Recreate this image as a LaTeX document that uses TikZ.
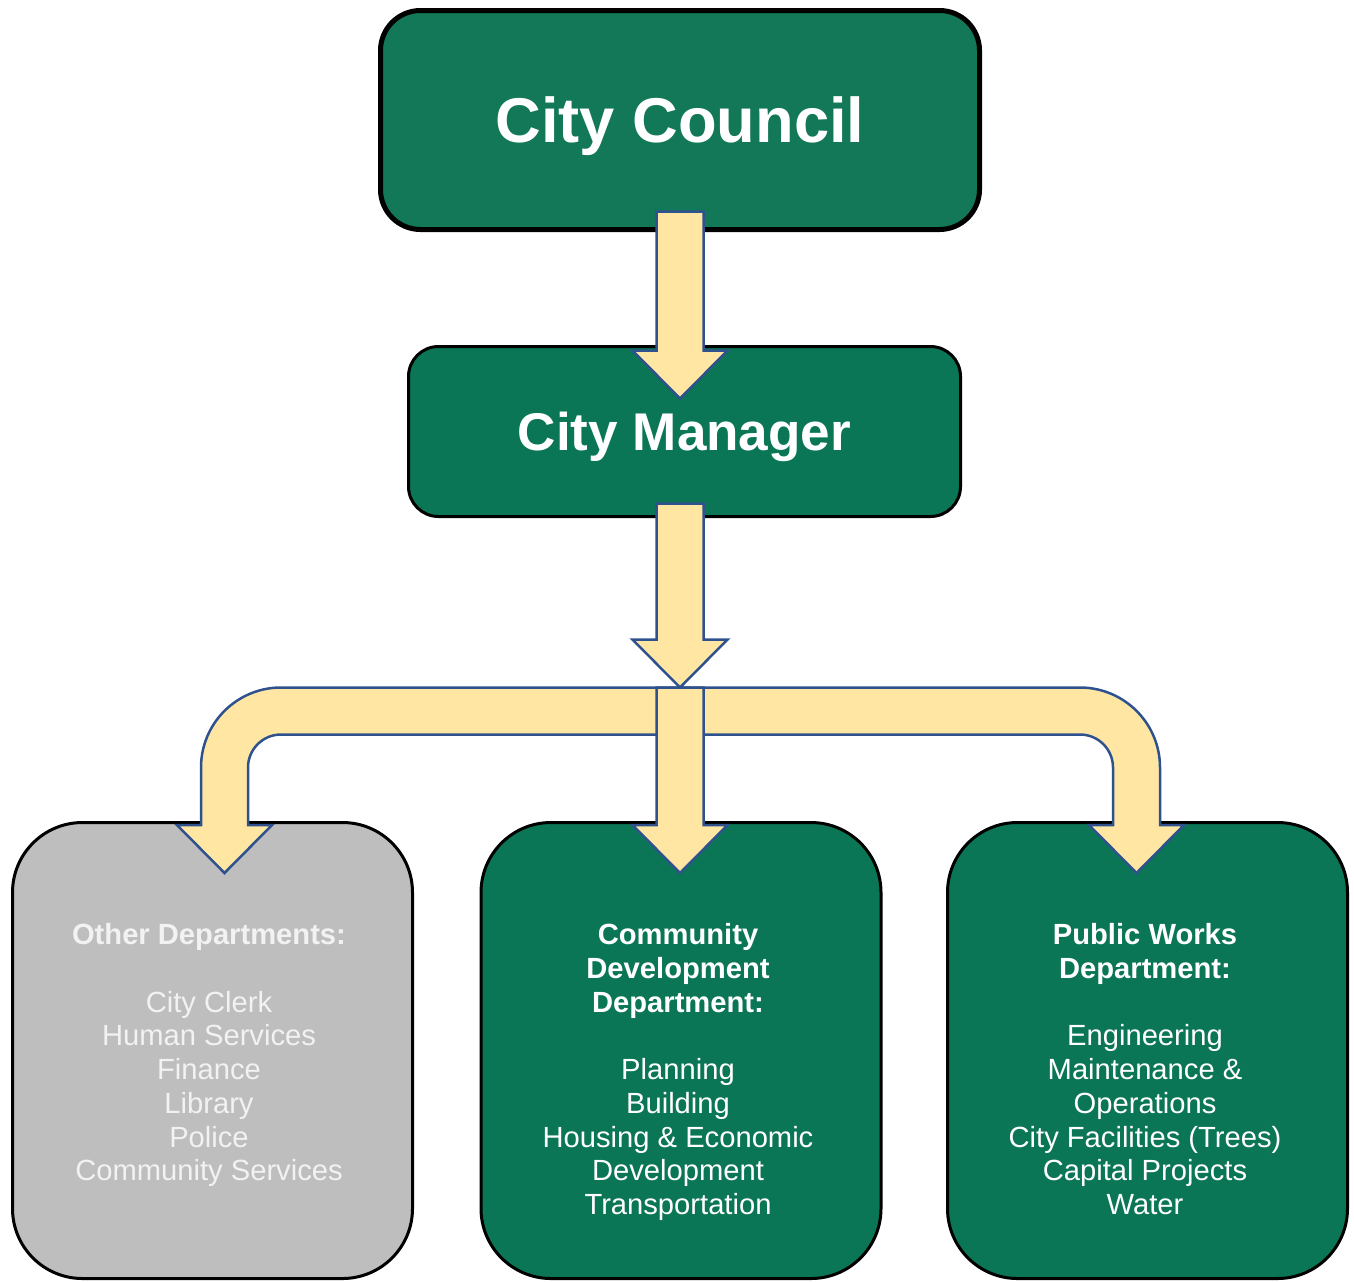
\documentclass[tikz,border=0pt]{standalone}
\usepackage{fontspec}
\setmainfont{Liberation Sans}
\usetikzlibrary{positioning, calc}

\definecolor{councilgreen}{HTML}{137857}
\definecolor{deptgreen}{HTML}{0A7655}
\definecolor{deptgray}{HTML}{BEBEBE}
\definecolor{arrowfill}{HTML}{FFE7A3}
\definecolor{arrowline}{HTML}{2F528F}

\begin{document}
\begin{tikzpicture}[
    topbox/.style={draw=black, text=white, align=center, text depth=0pt},
    dept/.style={draw=black, line width=0.03cm, rounded corners=0.7cm,
      minimum width=4.00cm, minimum height=4.56cm},
    deptlist/.style={anchor=north, inner sep=0pt, align=center, text=white,
      font=\fontsize{8.3}{9.59}\selectfont},
    blockarrow/.style={fill=arrowfill, draw=arrowline, line width=0.025cm, line join=miter}
  ]
      \useasboundingbox (0,0) rectangle (13.54,-12.81);

      % vertical block arrow from #1 down to tip #2
      \def\vblock#1#2{\draw[blockarrow] ($(#1)+(-0.235,0)$) -- ($(#2)+(-0.235,0.48)$)
        -- ++(-0.24,0) -- (#2) -- ($(#2)+(0.475,0.48)$) -- ++(-0.24,0)
        -- ($(#1)+(0.235,0)$) -- cycle;}

      \node[topbox, fill=councilgreen, line width=0.05cm, rounded corners=0.4cm,
        minimum width=5.99cm, minimum height=2.19cm, font=\fontsize{18}{21.6}\selectfont\bfseries]
        (council) at (6.80,-1.20) {City Council};
      \node[topbox, fill=deptgreen, line width=0.03cm, rounded corners=0.3cm,
        minimum width=5.52cm, minimum height=1.70cm, font=\fontsize{15.1}{18}\selectfont\bfseries]
        (manager) at (6.845,-4.315) {City Manager};

      \node[dept, fill=deptgray] (other) at (2.125,-10.505) {};
      \node[dept, fill=deptgreen] (cdd) at (6.81,-10.505) {};
      \node[dept, fill=deptgreen] (pwd) at (11.475,-10.505) {};

      \node[deptlist, text=white!95!black] (otherList) at ($(other.north)+(-0.035,-1.02)$)
        {\textbf{Other Departments:}\\[0.337cm] City Clerk\\ Human Services\\ Finance\\
         Library\\ Police\\ Community Services};
      \node[deptlist] (cddList) at ($(cdd.north)+(-0.03,-1.02)$)
        {\textbf{Community}\\ \textbf{Development}\\ \textbf{Department:}\\[0.337cm]
         Planning\\ Building\\ Housing \& Economic\\ Development\\ Transportation};
      \node[deptlist] (pwdList) at ($(pwd.north)+(-0.025,-1.02)$)
        {\textbf{Public Works}\\ \textbf{Department:}\\[0.337cm] Engineering\\
         Maintenance \&\\ Operations\\ City Facilities (Trees)\\ Capital Projects\\ Water};

      \coordinate (a1top) at ($(council.south)+(0,0.205)$);
      \coordinate (a1tip) at ($(a1top |- manager.north)+(0,-0.535)$);
      \coordinate (a2top) at ($(a1top |- manager.south)+(0,0.145)$);
      \coordinate (fork) at ($(a1top |- manager.south)+(0,-1.695)$);
      \coordinate (otherIn) at ($(other.north)+(0.12,-0.52)$);
      \coordinate (cddIn) at ($(fork |- cdd.north)+(0,-0.52)$);
      \coordinate (pwdIn) at ($(pwd.north)+(-0.11,-0.52)$);

      \vblock{a1top}{a1tip}
      \vblock{a2top}{fork}

      \draw[blockarrow] (otherIn) -- ++(0.475,0.48) -- ++(-0.24,0)
        -- ($(otherIn |- fork)+(0.235,-0.80)$) arc[start angle=180, end angle=90, radius=0.33]
        -- ($(pwdIn |- fork)+(-0.565,-0.47)$) arc[start angle=90, end angle=0, radius=0.33]
        -- ($(pwdIn)+(-0.235,0.48)$) -- ++(-0.24,0) -- (pwdIn) -- ++(0.475,0.48) -- ++(-0.24,0)
        -- ($(pwdIn |- fork)+(0.235,-0.80)$) arc[start angle=0, end angle=90, radius=0.80]
        -- ($(otherIn |- fork)+(0.565,0)$) arc[start angle=90, end angle=180, radius=0.80]
        -- ($(otherIn)+(-0.235,0.48)$) -- ++(-0.24,0) -- cycle;

      \vblock{fork}{cddIn}
    \end{tikzpicture}
\end{document}
